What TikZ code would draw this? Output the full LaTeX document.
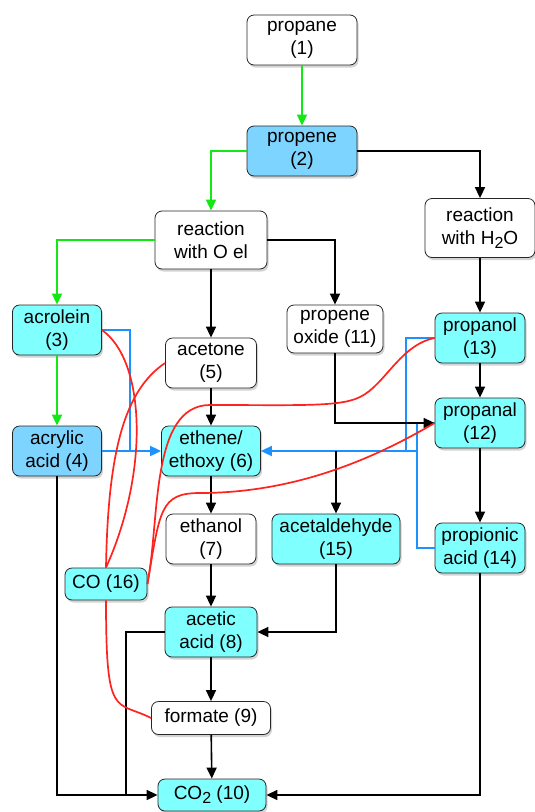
\documentclass[tikz,border=0pt]{standalone}
\usepackage{fontspec}
\setmainfont{Liberation Sans}
\usetikzlibrary{arrows.meta,shadows}

\definecolor{molcyan}{RGB}{128,255,255}
\definecolor{molblue}{RGB}{125,212,255}
\definecolor{routegreen}{RGB}{20,232,20}
\definecolor{routeblue}{RGB}{28,146,255}
\definecolor{routered}{RGB}{255,35,30}
\newcommand\subtwo{\raisebox{-0.4ex}{\fontsize{16}{16}\selectfont 2}}

\begin{document}
\begin{tikzpicture}[
  x=1pt, y=-1pt,
  box/.style={draw=black!85, line width=0.8pt, rounded corners=7pt, fill=white,
    align=center, inner sep=0pt, minimum width=90pt, minimum height=50pt,
    font=\fontsize{19}{23}\selectfont,
    drop shadow={shadow xshift=1.5pt, shadow yshift=-2.5pt, opacity=0.35}},
  cyanbox/.style={box, fill=molcyan},
  bluebox/.style={box, fill=molblue},
  arr/.style={-{Triangle[length=11pt, width=10pt]}, line width=1.6pt},
  line/.style={line width=1.6pt},
  garr/.style={arr, draw=routegreen, line width=1.8pt},
  barr/.style={arr, draw=routeblue, line width=1.8pt},
  bline/.style={draw=routeblue, line width=1.8pt},
  side/.style={draw=routered, line width=1.7pt}
]
\useasboundingbox (0,0) rectangle (535,812);

% feed and first steps
\node[box, minimum width=110pt] (pane) at (302,40) {propane\\(1)};
\node[bluebox, minimum width=110pt] (pene) at (302,151) {propene\\(2)};
\node[box, minimum width=112pt, minimum height=58pt] (rxO) at (211,240) {reaction\\with O el};
\node[box, minimum width=110pt, minimum height=59pt] (rxW) at (480,228) {reaction\\with H\subtwo O};

% left branch
\node[cyanbox, minimum width=89pt] (acro) at (57,330) {acrolein\\(3)};
\node[bluebox, minimum width=89pt] (acry) at (57,451) {acrylic\\acid (4)};
\node[cyanbox, minimum width=82pt, minimum height=32pt] (co) at (106,584) {CO (16)};

% middle column
\node[box, minimum width=91pt] (acet) at (211,363) {acetone\\(5)};
\node[cyanbox, minimum width=99pt] (eth) at (211,451) {ethene/\\ethoxy (6)};
\node[box] (etol) at (211,539) {ethanol\\(7)};
\node[cyanbox, minimum width=92pt] (aca) at (211,632) {acetic\\acid (8)};
\node[box, minimum width=119pt, minimum height=33pt] (form) at (211,718) {formate (9)};
\node[cyanbox, minimum width=108pt, minimum height=32pt] (co2) at (212,795) {CO\subtwo{} (10)};

% right side
\node[box, minimum width=96pt, minimum height=48pt] (pox) at (335,329) {propene\\oxide (11)};
\node[cyanbox, minimum width=128pt] (ald) at (336,539) {acetaldehyde\\(15)};
\node[cyanbox] (pol) at (480,338) {propanol\\(13)};
\node[cyanbox] (pal) at (480,423) {propanal\\(12)};
\node[cyanbox] (pac) at (480,548) {propionic\\acid (14)};

\coordinate (ltee) at (130,451);
\coordinate (rtee) at (417,451);
\coordinate (oltee) at (406,451);
\coordinate (aldtap) at (ald.north |- eth.east);
\coordinate (acajoin) at (126,795);

% green route
\draw[garr] (pane) -- (pene);
\draw[garr] (pene.west) -| (rxO.north);
\draw[garr] (rxO.west) -| (acro.north);
\draw[garr] (acro) -- (acry);

% blue returns
\draw[bline] (acro.east) -| (ltee);
\draw[barr] (acry.east) -- (eth.west);
\draw[bline] (pol.west) -| (oltee);
\draw[bline] (pal.west) -| (rtee);
\draw[bline] (pac.west) -| (rtee);
\draw[barr] (rtee) -- (eth.east);

% black steps
\draw[arr] (pene.east) -| (rxW.north);
\draw[arr] (rxO.east) -| (pox.north);
\draw[arr] (rxO) -- (acet);
\draw[arr] (rxW) -- (pol);
\draw[arr] (pol) -- (pal);
\draw[arr] (pal) -- (pac);
\draw[arr] (pox.south) |- (pal.west);
\draw[arr] (aldtap) -- (ald.north);
\draw[arr] (acet) -- (eth);
\draw[arr] (eth) -- (etol);
\draw[arr] (etol) -- (aca);
\draw[arr] (aca) -- (form);
\draw[arr] (form) -- (co2);
\draw[arr] (ald.south) |- (aca.east);
\draw[line] (aca.west) -| (acajoin);
\draw[arr] (acry.south) |- (co2.west);
\draw[arr] (pac.south) |- (co2.east);

% CO links
\draw[side] (acro.east) .. controls (145,360) and (150,470) .. (co.north);
\draw[side] (acet.west) .. controls (125,390) and (108,450) .. (co.north);
\draw[side] (co.east) .. controls (160,520) and (150,405) .. (210,405)
  .. controls (300,405) and (340,407) .. (360,397)
  .. controls (385,385) and (400,345) .. (pol.west);
\draw[side] (co.east) .. controls (160,510) and (160,493) .. (200,493)
  .. controls (300,493) and (380,455) .. (pal.west);
\draw[side] (co.south) .. controls (106,720) and (115,700) .. (form.west);
\end{tikzpicture}
\end{document}
